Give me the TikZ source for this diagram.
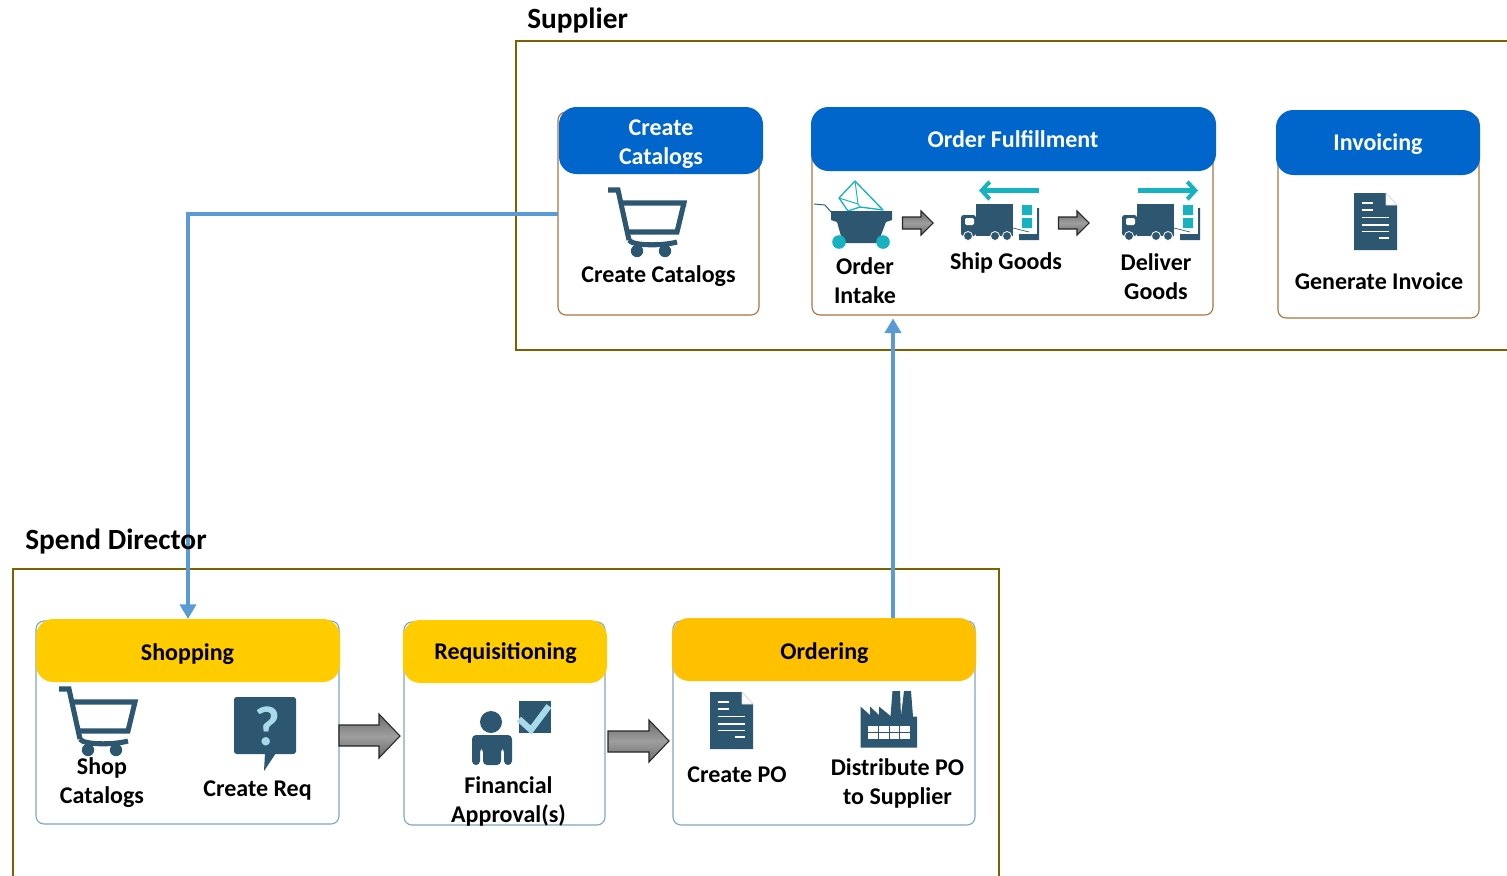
\documentclass[tikz,border=0pt]{standalone}
\usepackage{fontspec}
\setmainfont{Carlito}
\usetikzlibrary{arrows.meta}
\definecolor{framebrown}{HTML}{7F6000}
\definecolor{panelbrown}{HTML}{A9743F}
\definecolor{panelblue}{HTML}{7FA8BC}
\definecolor{headblue}{HTML}{0066CC}
\definecolor{headgold}{HTML}{FFCC00}
\definecolor{headamber}{HTML}{FFC000}
\definecolor{linkblue}{HTML}{5B9BD5}
\definecolor{icondark}{HTML}{2D5670}
\definecolor{iconteal}{HTML}{17B2C0}
\definecolor{iconlight}{HTML}{A8DAEA}
\tikzset{
  x=0.75pt,y=-0.75pt,
  body/.style={draw=#1,line width=0.85pt,fill=white,rounded corners=6pt,inner sep=0pt,outer sep=0pt},
  head/.style={fill=#1,rounded corners=13pt,inner sep=0pt,outer sep=0pt},
  lbl/.style={font=\fontsize{18}{21.75}\selectfont\bfseries,align=center,inner sep=0pt,text=black},
  headlbl/.style={lbl,text=white},
  title/.style={font=\fontsize{22}{24}\selectfont\bfseries,anchor=west,inner sep=0pt,text=black},
  frame/.style={draw=framebrown,line width=2pt},
  link/.style={draw=linkblue,line width=3pt,-{Triangle[length=11pt,width=12pt]}},
  blockarrow/.style={draw=black!85,line width=0.8pt,top color=black!58,bottom color=black!58,middle color=black!38},
  tealarrow/.style={draw=iconteal,line width=4.2pt,-{Straight Barb[length=6pt,width=13pt,line width=3pt]}},
  cartline/.style={draw=icondark,line width=3.8pt},
  cart/.pic={
    \draw[cartline,line join=miter] (0,2)--(10,2)--(21,52);
    \draw[cartline] (14,15)--(76,15)--(69,44)--(19,44);
    \draw[cartline] (21,52) .. controls (24,58) and (55,58) .. (69,54);
    \fill[icondark] (29,63) circle[radius=6.2] (57,63) circle[radius=6.2];
  },
  docicon/.pic={
    \fill[icondark] (0,0)--(32,0)--(43,12)--(43,57)--(0,57)--cycle;
    \draw[black!15,line width=.5pt,fill=white] (32,0)--(43,12)--(32,12)--cycle;
    \draw[white,line width=.9pt] (7.5,10)--(19,10) (7.5,17)--(19,17) (7.5,24.5)--(35,24.5)
      (7.5,32)--(35,32) (7.5,38.5)--(35,38.5) (24.5,45)--(35,45);
  },
  truck/.pic={
    \fill[icondark] (15,0)--(52,0)--(52,32)--(15,32)--cycle;
    \fill[icondark,rounded corners=2pt] (0,32)--(0,11)--(15,11)--(15,32)--cycle;
    \fill[white,rounded corners=1pt] (4,14)--(13,14)--(13,21)--(4,21)--cycle;
    \draw[icondark,line width=.5pt] (52,24)--(68,28);
    \fill[icondark] (58,30)--(76,30)--(76,4)--(78,4)--(78,36)--(58,36)--cycle;
    \fill[iconteal] (61,1) rectangle (71,11) (61,14) rectangle (71,24);
    \filldraw[fill=icondark,draw=white,line width=.6pt] (7,32) circle[radius=4.5] (34,32) circle[radius=4.5] (46,32) circle[radius=4.5];
  },
}
\newcommand{\boxnode}[6]{%
  \pgfmathsetlengthmacro{\pw}{(#4-#2)*0.75pt}%
  \pgfmathsetlengthmacro{\ph}{(#5-#3)*0.75pt}%
  \node[#6,minimum width=\pw,minimum height=\ph] (#1) at ({(#2+#4)/2},{(#3+#5)/2}) {};%
}
\begin{document}
\begin{tikzpicture}
\useasboundingbox (0,0) rectangle (1507,875);
% frames
\draw[frame] (1508,41)--(516,41)--(516,350)--(1508,350);
\draw[frame] (13,876)--(13,569)--(999,569)--(999,876);
% supplier panels
\boxnode{catbody}{558}{112}{759}{315}{body=panelbrown}
\boxnode{cathead}{559}{107}{763}{174}{head=headblue}
\boxnode{fulbody}{812}{115}{1213}{315}{body=panelbrown}
\boxnode{fulhead}{811}{107}{1216}{171}{head=headblue}
\boxnode{invbody}{1278}{115}{1479}{318}{body=panelbrown}
\boxnode{invhead}{1276}{110}{1480}{175}{head=headblue}
% spend panels
\boxnode{shopbody}{36}{621}{339}{824}{body=panelblue}
\boxnode{shophead}{36}{619}{340}{682}{head=headgold}
\boxnode{reqbody}{404}{622}{605}{825}{body=panelblue}
\boxnode{reqhead}{403}{620}{607}{683}{head=headgold}
\boxnode{ordbody}{673}{621}{975}{825}{body=panelblue}
\boxnode{ordhead}{672}{618}{976}{681}{head=headamber}
% connectors
\coordinate (upline) at (893,400);
\draw[link] (catbody.west) -| (shophead.north);
\draw[link,shorten >=2.5pt] (upline |- ordhead.north) -- (upline |- fulbody.south);
% titles
\node[title] (suptitle) at (527,21) {Supplier};
\node[title] (spendtitle) at (25,542) {Spend Director};
% header labels
\node[headlbl] (h1) at (661,144) {Create\\Catalogs};
\node[headlbl] (h2) at (1013,139.5) {Order Fulfillment};
\node[headlbl] (h3) at (1378,144.5) {Invoicing};
\node[lbl] (h4) at (187.5,654) {Shopping};
\node[lbl] (h5) at (505.5,653.5) {Requisitioning};
\node[lbl] (h6) at (824.5,653) {Ordering};
% block arrows
\path[blockarrow] (339,725)--(379,725)--(379,714)--(400,736)--(379,758)--(379,746)--(339,746)--cycle;
\path[blockarrow] (608,731)--(649,731)--(649,720)--(669,741)--(649,762)--(649,752)--(608,752)--cycle;
\path[blockarrow] (902.5,217)--(921,217)--(921,211)--(933,223)--(921,235)--(921,229)--(902.5,229)--cycle;
\path[blockarrow] (1058.5,217)--(1077,217)--(1077,211)--(1089,223)--(1077,235)--(1077,229)--(1058.5,229)--cycle;
% carts and documents
\pic at (608,188) {cart};
\pic at (59,687) {cart};
\pic at (1354,193) {docicon};
\pic at (710,692) {docicon};
% order intake icon
\draw[iconteal,line width=1pt,line join=round,fill=white] (839,198)--(855,181)--(883,210)--(860,207)--(848,211)--cycle;
\draw[iconteal,line width=.7pt] (839,198)--(858,204)--(855,181) (858,204)--(860,207);
\draw[icondark,line width=.7pt] (814,204)--(825,205)--(831,212);
\fill[icondark] (831,211)--(892,211)--(892,220)--(886,222)--(878,243)--(843,243)--(837,222)--(831,220)--cycle;
\fill[iconteal] (839,242) circle[radius=6.8] (883,242) circle[radius=6.8];
% trucks
\pic at (961,204) {truck};
\pic at (1122,204) {truck};
\draw[tealarrow] (1039,190.5)--(979,190.5);
\draw[tealarrow] (1138,190.5)--(1198,190.5);
% question icon
\fill[icondark,rounded corners=2pt] (234,697)--(296,697)--(296,754)--(234,754)--cycle;
\fill[icondark] (265,753)--(264,771)--(276,753)--cycle;
\node[inner sep=0pt,text=iconlight,font=\fontsize{42}{42}\selectfont\bfseries] (qmark) at (267,726) {?};
% person with check
\fill[icondark] (491,722) circle[radius=11];
\fill[icondark,rounded corners=3pt] (472,765)--(472,735)--(512,735)--(512,765)--(504,765)--(504,748)--(501,748)--(501,765)--(483,765)--(483,748)--(480,748)--(480,765)--cycle;
\fill[icondark] (519,701) rectangle (551,733);
\draw[iconlight,line width=4.6pt,line join=miter] (519,719)--(531,730)--(549,706);
% factory
\fill[icondark] (860.5,747.5)--(860.5,706.5)--(870,715)--(870,706.5)--(879,715)--(879,706.5)--(890.5,716)--(892.5,691)--(900,691)--(901,716)--(904,691)--(911,691)--(913,716.5)--(917,716.5)--(917,747.5)--cycle;
\draw[white,line width=.6pt,fill=white] (867,725) rectangle (910,739);
\draw[icondark,line width=.4pt] (867,725) rectangle (910,739) (867,732)--(910,732) (878,725)--(878,739) (889,725)--(889,739) (899.5,725)--(899.5,739);
% labels
\node[lbl] (t1) at (658.5,276.5) {Create Catalogs};
\node[lbl] (t2) at (865,280.5) {Order\\Intake};
\node[lbl] (t3) at (1006,262.5) {Ship Goods};
\node[lbl] (t4) at (1156,276.5) {Deliver\\Goods};
\node[lbl] (t5) at (1379,281.5) {Generate Invoice};
\node[lbl] (t6) at (102,783) {Shop\\Catalogs};
\node[lbl] (t7) at (257.5,791) {Create Req};
\node[lbl] (t8) at (508.5,801) {Financial\\Approval(s)};
\node[lbl] (t9) at (737,775) {Create PO};
\node[lbl] (t10) at (897.5,783) {Distribute PO\\to Supplier};
\end{tikzpicture}
\end{document}
